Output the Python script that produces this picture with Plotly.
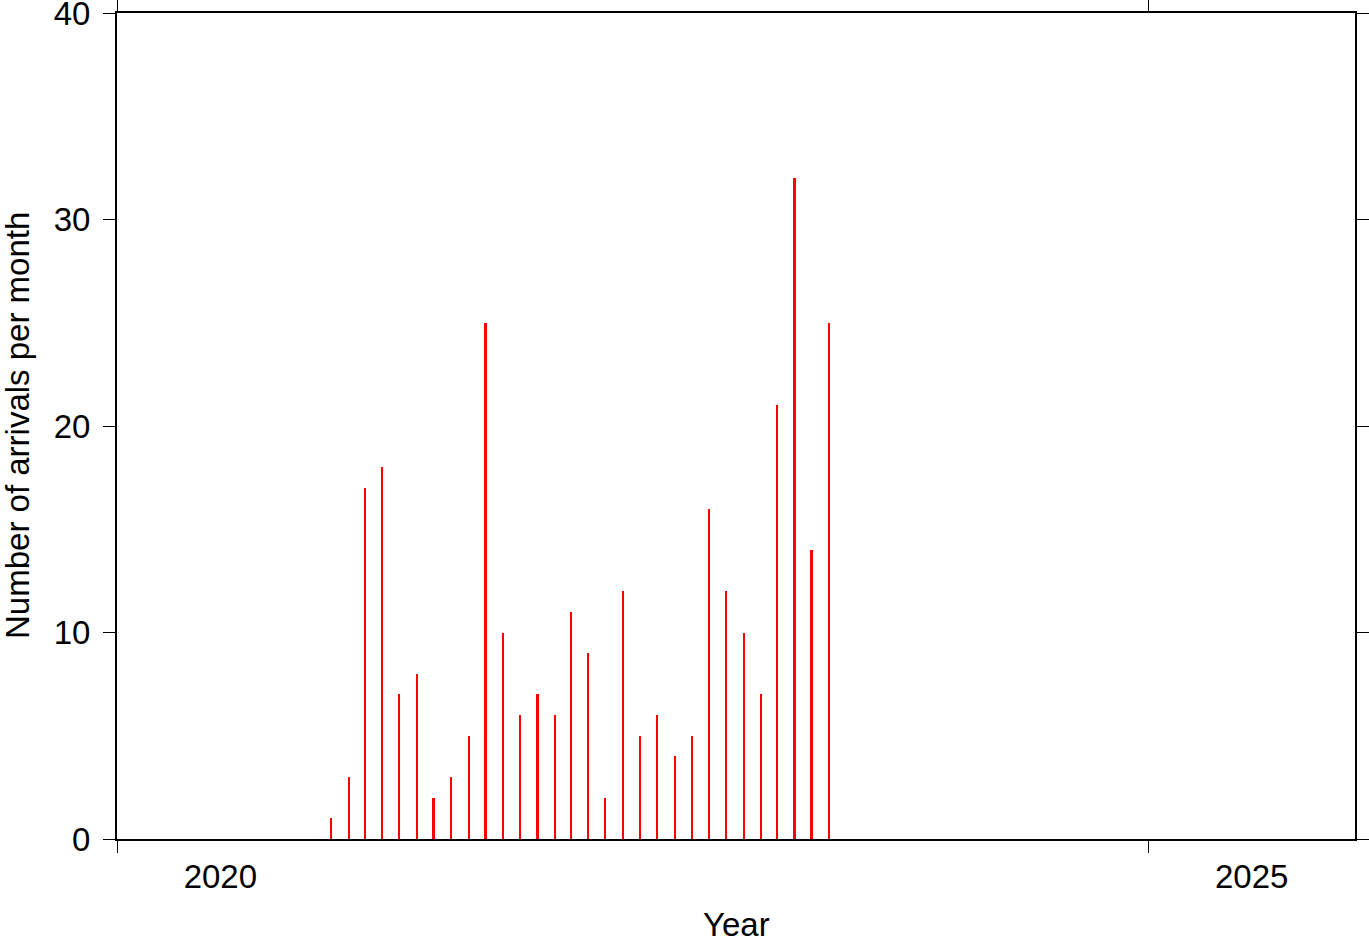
import plotly.graph_objects as go

months = ["2021-01-15", "2021-02-15", "2021-03-15", "2021-04-15", "2021-05-15", "2021-06-15",
          "2021-07-15", "2021-08-15", "2021-09-15", "2021-10-15", "2021-11-15", "2021-12-15",
          "2022-01-15", "2022-02-15", "2022-03-15", "2022-04-15", "2022-05-15", "2022-06-15",
          "2022-07-15", "2022-08-15", "2022-09-15", "2022-10-15", "2022-11-15", "2022-12-15",
          "2023-01-15", "2023-02-15", "2023-03-15", "2023-04-15", "2023-05-15", "2023-06-15"]
arrivals = [1, 3, 17, 18, 7, 8, 2, 3, 5, 25, 10, 6, 7, 6, 11, 9, 2, 12, 5, 6, 4, 5,
            16, 12, 10, 7, 21, 32, 14, 25]

x_range = ["2020-01-01", "2026-01-01"]
tick_years = ["2020-01-01", "2025-01-01"]
label_pos = ["2020-07-02", "2025-07-02"]
label_text = ["2020", "2025"]
y_ticks = [0, 10, 20, 30, 40]
x_title = "Year"
y_title = "Number of arrivals per month"

FONT = "Liberation Sans, Arial, Helvetica, sans-serif"
FS = 33
bar_width_ms = 3.0 * 24 * 3600 * 1000

fig = go.Figure()
fig.add_trace(go.Bar(x=months, y=arrivals, width=bar_width_ms,
                     marker=dict(color="#ff0000", line=dict(width=0)),
                     showlegend=False, hoverinfo="x+y"))
fig.add_trace(go.Scatter(x=label_pos, y=[None, None], xaxis="x2", yaxis="y",
                         mode="markers", showlegend=False, hoverinfo="skip"))

fig.update_layout(
    width=1369, height=942,
    margin=dict(l=117, r=14, t=13, b=103, autoexpand=False),
    paper_bgcolor="white", plot_bgcolor="white",
    font=dict(family=FONT, size=FS, color="black"),
    bargap=0,
    xaxis=dict(type="date", range=x_range, tickmode="array", tickvals=tick_years,
               showticklabels=False, ticks="outside", ticklen=12, tickwidth=1,
               tickcolor="black", showline=True, linewidth=2, linecolor="black",
               mirror="ticks", showgrid=False, zeroline=False, automargin=False),
    xaxis2=dict(type="date", range=x_range, overlaying="x", side="bottom", anchor="y",
                tickmode="array", tickvals=label_pos, ticktext=label_text,
                ticks="", showline=False, showgrid=False, zeroline=False,
                ticklabelstandoff=15, automargin=False, ticklabeloverflow="allow",
                tickfont=dict(family=FONT, size=FS, color="black")),
    yaxis=dict(range=[0, 40], tickmode="array", tickvals=y_ticks,
               ticks="outside", ticklen=12, tickwidth=1, tickcolor="black",
               showline=True, linewidth=2, linecolor="black", mirror="ticks",
               showgrid=False, zeroline=False, ticklabelstandoff=6, automargin=False,
               ticklabeloverflow="allow",
               tickfont=dict(family=FONT, size=FS, color="black")),
    annotations=[
        dict(text=x_title, xref="paper", yref="paper", x=0.5, y=0,
             xanchor="center", yanchor="middle", yshift=-85, showarrow=False,
             font=dict(family=FONT, size=FS, color="black")),
        dict(text=y_title, xref="paper", yref="paper", x=0, y=0.5, textangle=-90,
             xanchor="center", yanchor="middle", xshift=-100, showarrow=False,
             font=dict(family=FONT, size=FS, color="black")),
    ],
)

fig.write_html("out.html", config={"displayModeBar": False},
               post_script="document.body.style.margin='0';")
